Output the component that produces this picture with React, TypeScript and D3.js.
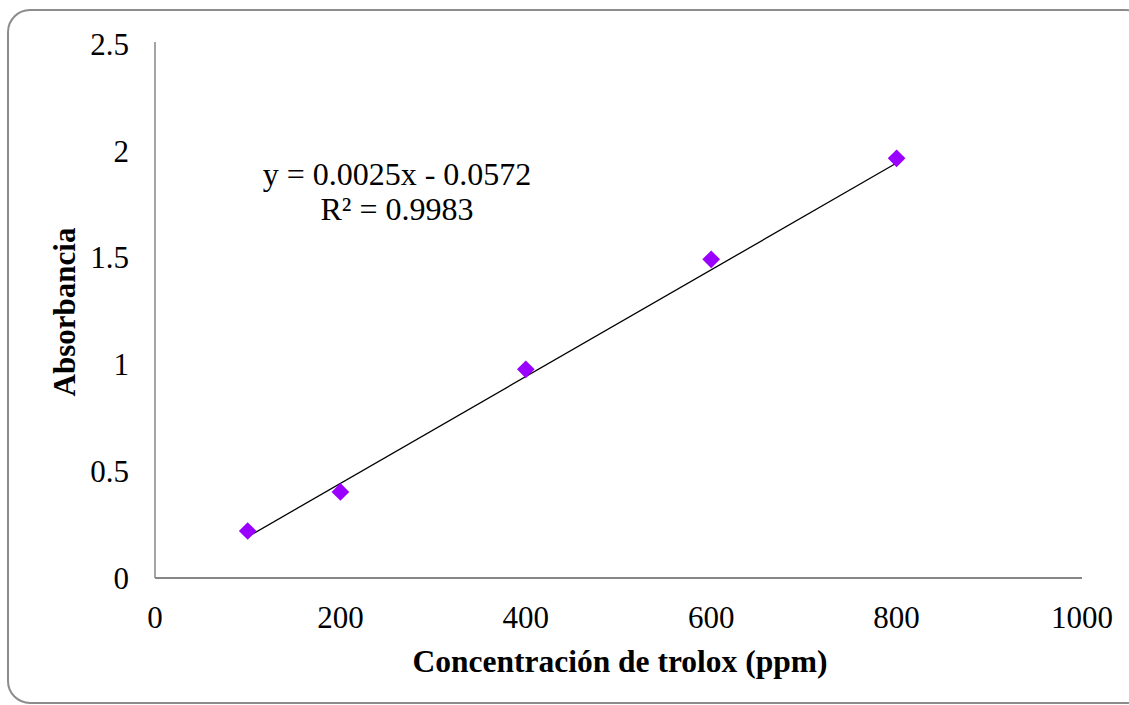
import React from "react";
import * as d3 from "d3";

const concentrations = [100, 200, 400, 600, 800];
const absorbances = [0.22, 0.403, 0.977, 1.492, 1.965];
const xTicks = [0, 200, 400, 600, 800, 1000];
const yTicks = [0, 0.5, 1, 1.5, 2, 2.5];
const slope = 0.0025;
const intercept = -0.0572;
const equationText = "y = 0.0025x - 0.0572";
const r2Text = "R² = 0.9983";
const xTitle = "Concentración de trolox (ppm)";
const yTitle = "Absorbancia";

export default function App() {
  const W = 1129, H = 705;
  const x = d3.scaleLinear().domain([0, 1000]).range([155, 1082]);
  const y = d3.scaleLinear().domain([0, 2.5]).range([578, 44]);
  const font = "'Liberation Serif', 'Times New Roman', serif";
  const xMin = d3.min(concentrations)!;
  const xMax = d3.max(concentrations)!;
  const line = d3.line<number>().x(v => x(v)).y(v => y(slope * v + intercept));
  const diamond = d3.symbol().type(d3.symbolDiamond2).size(200)();
  return (
    <svg width={W} height={H} style={{ position: "absolute", left: 0, top: 0 }}>
      <rect x={0} y={0} width={W} height={H} fill="#fff" />
      <rect x={8} y={10} width={1140} height={693} rx={22} ry={22} fill="#fff" stroke="#8c8c8c" strokeWidth={2} />
      <line x1={x(0)} x2={x(0)} y1={y(2.5) - 2} y2={y(0)} stroke="#868686" strokeWidth={1.5} />
      <line x1={x(0)} x2={x(1000)} y1={y(0)} y2={y(0)} stroke="#868686" strokeWidth={2} />
      {yTicks.map(t => (
        <text key={"y" + t} x={129} y={y(t)} dy="0.35em" textAnchor="end" fontFamily={font} fontSize={31}>{t}</text>
      ))}
      {xTicks.map(t => (
        <text key={"x" + t} x={x(t)} y={628} textAnchor="middle" fontFamily={font} fontSize={31}>{t}</text>
      ))}
      <path d={line([xMin, xMax]) || ""} stroke="#000" strokeWidth={1.3} fill="none" />
      {concentrations.map((c, i) => (
        <path key={c} d={diamond || ""} transform={`translate(${x(c)},${y(absorbances[i])})`} fill="#9900FF" />
      ))}
      <text x={397} y={185} textAnchor="middle" fontFamily={font} fontSize={32}>{equationText}</text>
      <text x={397} y={220} textAnchor="middle" fontFamily={font} fontSize={32}>{r2Text}</text>
      <text x={620} y={672} textAnchor="middle" fontFamily={font} fontSize={31.5} fontWeight="bold">{xTitle}</text>
      <text transform={`translate(75,312) rotate(-90)`} textAnchor="middle" fontFamily={font} fontSize={31} fontWeight="bold">{yTitle}</text>
    </svg>
  );
}
